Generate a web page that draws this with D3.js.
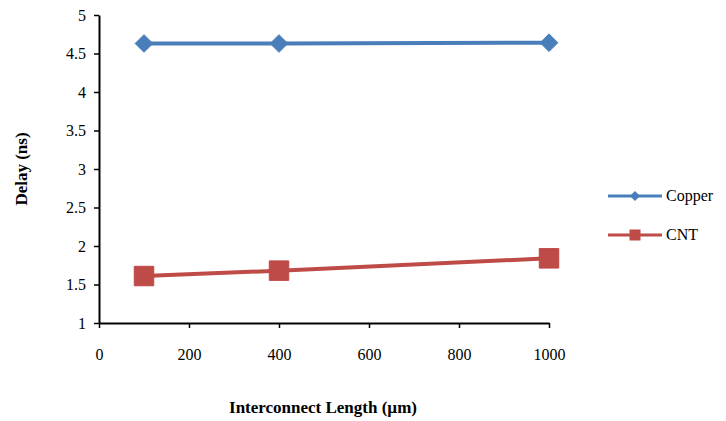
<!DOCTYPE html>
<html><head><meta charset="utf-8">
<script src="https://cdn.jsdelivr.net/npm/d3@7"></script>
<style>body{margin:0;background:#fff}svg{display:block}</style>
</head><body><svg id="c" width="726" height="421" style="font-family:'Liberation Serif',serif"></svg>
<script>
const lengths = [100, 400, 1000];
const copper = [4.63, 4.63, 4.64];
const cnt = [1.61, 1.68, 1.84];
const seriesNames = ["Copper", "CNT"];
const xTicks = [0, 200, 400, 600, 800, 1000];
const yTicks = [1, 1.5, 2, 2.5, 3, 3.5, 4, 4.5, 5];
const FONT = "'Liberation Serif', serif";

const svg = d3.select("#c");
const x = d3.scaleLinear().domain([0, 1000]).range([99, 549]);
const y = d3.scaleLinear().domain([1, 5]).range([323, 15]);

const yAxis = d3.axisLeft(y).tickValues(yTicks).tickSize(5).tickSizeOuter(0).tickPadding(8).tickFormat(d3.format("~g"));
const gy = svg.append("g").attr("transform", "translate(99,0)").call(yAxis);
const xAxis = d3.axisBottom(x).tickValues(xTicks).tickSize(5).tickSizeOuter(0).tickPadding(21).tickFormat(d3.format("d"));
const gx = svg.append("g").attr("transform", "translate(0,323)").call(xAxis);
[gy, gx].forEach(g => {
  g.attr("font-family", FONT).attr("font-size", 16);
  g.select(".domain").attr("stroke", "#000").attr("stroke-width", 2);
  g.selectAll(".tick line").attr("stroke", "#000").attr("stroke-width", 1.5);
  g.selectAll(".tick text").style("font-family", FONT).style("font-size", "16px").attr("fill", "#000");
});

const colors = ["#4A7EBB", "#BE4B48"];
const data = [copper, cnt];
const line = d3.line().x((d, i) => x(lengths[i])).y(d => y(d));
data.forEach((s, k) => {
  svg.append("path").datum(s).attr("d", line).attr("fill", "none")
    .attr("stroke", colors[k]).attr("stroke-width", 4);
  const sym = k === 0 ? d3.symbolDiamond2 : d3.symbolSquare;
  const size = k === 0 ? 200 : 380;
  svg.selectAll(null).data(s).enter().append("path")
    .attr("d", d3.symbol().type(sym).size(size))
    .attr("transform", (d, i) => `translate(${x(lengths[i])},${y(d)})`)
    .attr("fill", colors[k]).attr("stroke", colors[k]).attr("stroke-width", 1).attr("stroke-linejoin", "round");
});

// legend
const legY = [196, 235];
seriesNames.forEach((n, k) => {
  const g = svg.append("g");
  g.append("line").attr("x1", 608).attr("x2", 662).attr("y1", legY[k]).attr("y2", legY[k])
    .attr("stroke", colors[k]).attr("stroke-width", 3);
  g.append("path").attr("d", d3.symbol().type(k === 0 ? d3.symbolDiamond2 : d3.symbolSquare).size(k === 0 ? 65 : 121))
    .attr("transform", `translate(635,${legY[k]})`).attr("fill", colors[k]);
  g.append("text").attr("x", 666).attr("y", legY[k] + 5).style("font-family", FONT).style("font-size", "16px").attr("fill", "#000").text(n);
});

svg.append("text").attr("x", 323).attr("y", 413).attr("text-anchor", "middle")
  .style("font-family", FONT).style("font-size", "17px").attr("font-weight", "bold").text("Interconnect Length (µm)");
svg.append("text").attr("transform", "translate(27,169) rotate(-90)").attr("text-anchor", "middle")
  .style("font-family", FONT).style("font-size", "17px").attr("font-weight", "bold").text("Delay (ns)");
</script></body></html>
